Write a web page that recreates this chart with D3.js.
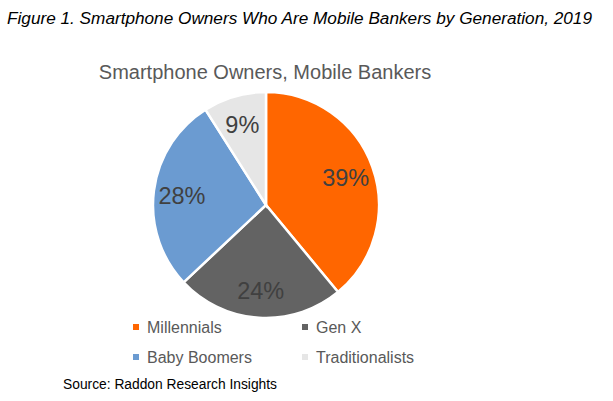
<!DOCTYPE html>
<html><head><meta charset="utf-8">
<script src="https://cdn.jsdelivr.net/npm/d3@7"></script>
<style>body{margin:0;background:#fff}svg{display:block}text{font-family:"Liberation Sans",Arial,sans-serif}</style>
</head><body><svg id="c" width="613" height="401"></svg>
<script>
const categories = ["Millennials","Gen X","Baby Boomers","Traditionalists"];
const values = [39, 24, 28, 9];
const labels = ["39%","24%","28%","9%"];
const colors = ["#FF6600","#636363","#6B9BD1","#E6E6E6"];

const svg = d3.select("#c");
svg.append("text").attr("x",7).attr("y",24).attr("font-size",17.2).attr("font-style","italic").attr("fill","#000")
  .text("Figure 1. Smartphone Owners Who Are Mobile Bankers by Generation, 2019");
svg.append("text").attr("x",265).attr("y",79).attr("text-anchor","middle").attr("font-size",20).attr("fill","#595959")
  .text("Smartphone Owners, Mobile Bankers");

const cx=266, cy=205, r=113;
const pie = d3.pie().sort(null).value(d=>d)(values);
const arc = d3.arc().innerRadius(0).outerRadius(r);
const labelArc = d3.arc().innerRadius(r*0.75).outerRadius(r*0.75);
const g = svg.append("g").attr("transform",`translate(${cx},${cy})`);
g.selectAll("path").data(pie).join("path").attr("d",arc)
  .attr("fill",(d,i)=>colors[i]).attr("stroke","#fff").attr("stroke-width",2.5);
g.selectAll("text").data(pie).join("text")
  .attr("transform",d=>`translate(${labelArc.centroid(d)})`)
  .attr("text-anchor","middle").attr("dy","0.4em").attr("font-size",23.5).attr("fill","#404040")
  .text((d,i)=>labels[i]);

const legPos = [[136,327],[305,327],[136,357],[305,357]];
const lg = svg.append("g");
categories.forEach((c,i)=>{
  const [x,y]=legPos[i];
  lg.append("rect").attr("x",x-3).attr("y",y-3).attr("width",6).attr("height",6).attr("fill",colors[i]);
  lg.append("text").attr("x",x+11).attr("y",y+6).attr("font-size",16).attr("fill","#595959").text(c);
});
svg.append("text").attr("x",63).attr("y",389).attr("font-size",13.8).attr("fill","#000").text("Source: Raddon Research Insights");
</script></body></html>
